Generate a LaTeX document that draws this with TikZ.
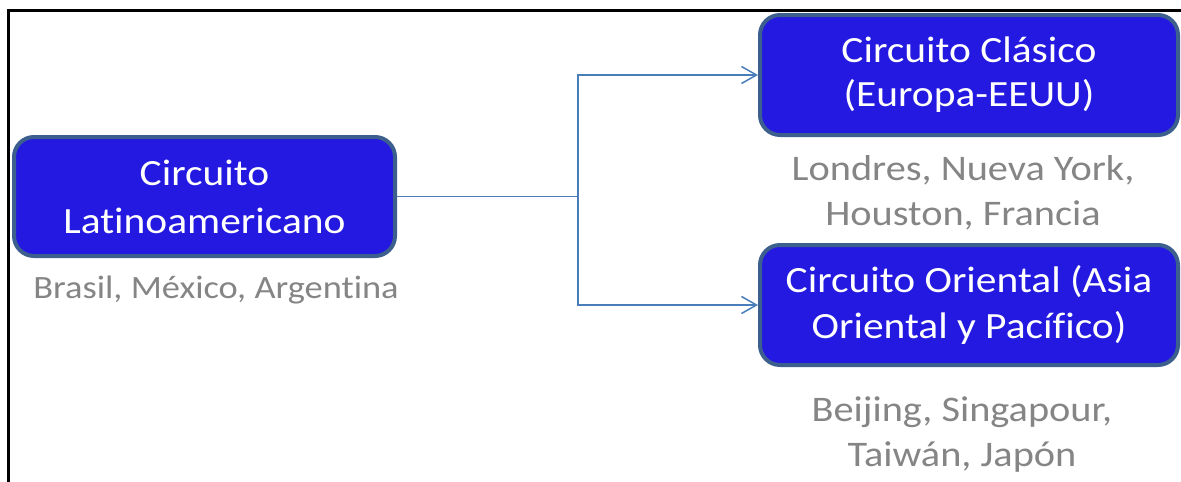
\documentclass[tikz,border=0pt]{standalone}
\usepackage{fontspec}
\setmainfont[FakeStretch=1.12, Ligatures={NoCommon,NoContextual}]{Carlito}
\usetikzlibrary{arrows.meta}

\definecolor{boxfill}{HTML}{2319E0}
\definecolor{boxline}{HTML}{3C5F8E}
\definecolor{linkcol}{HTML}{4A7EBB}
\definecolor{notegray}{HTML}{858585}

\tikzset{
  circuit/.style={draw=boxline, line width=4pt, fill=boxfill, rounded corners=20pt,
    text=white, align=center, inner sep=0pt},
  note/.style={text=notegray, align=center, inner sep=0pt},
  link/.style={draw=linkcol, line width=1.5pt,
    -{Straight Barb[length=15pt, width=17pt, line width=1.5pt]}},
}

\begin{document}
\begin{tikzpicture}[x=1pt, y=-1pt]
\useasboundingbox (0,0) rectangle (1181,482);

% frame (top and left edges)
\draw[line width=3pt] (8.7,482) -- (8.7,10) -- (1181,10);

% circuit boxes
\node[circuit, minimum width=381pt, minimum height=119pt,
      font=\fontsize{37}{48}\selectfont] (latam) at (204.5,196.5)
      {Circuito\\Latinoamericano};
\node[circuit, minimum width=418pt, minimum height=120pt,
      font=\fontsize{37}{44}\selectfont] (clasico) at (969,75)
      {Circuito Clásico\\(Europa-EEUU)};
\node[circuit, minimum width=418pt, minimum height=120pt,
      font=\fontsize{37}{46}\selectfont] (oriental) at (969,305)
      {Circuito Oriental (Asia\\Oriental y Pacífico)};

% city lists
\node[note, anchor=base, font=\fontsize{32.5}{36}\selectfont] (latamcities) at (216,298)
      {Brasil, México, Argentina};
\node[note, font=\fontsize{36}{45}\selectfont] (clasicocities) at (963,193)
      {Londres, Nueva York,\\Houston, Francia};
\node[note, font=\fontsize{36}{45}\selectfont] (orientalcities) at (962,435)
      {Beijing, Singapour,\\Taiwán, Japón};

% connectors
\coordinate (fork) at (578,196.5);
\draw[link] (latam.east) -- (fork) |- (clasico.west);
\draw[link] (fork) |- (oriental.west);
\end{tikzpicture}
\end{document}
